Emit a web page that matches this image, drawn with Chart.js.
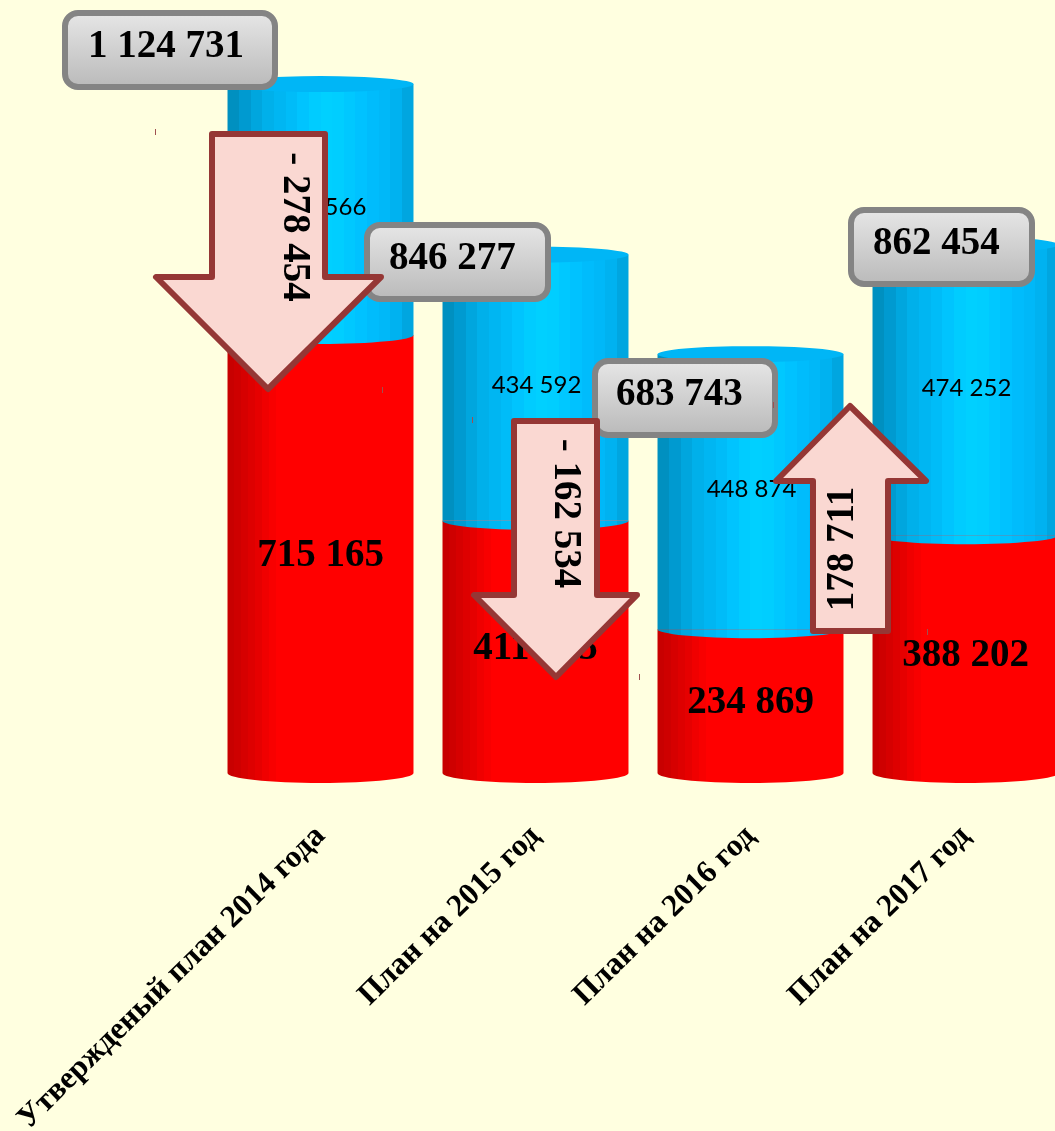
<!DOCTYPE html>
<html lang="ru">
<head>
<meta charset="utf-8">
<title>План 2014-2017</title>
<script src="https://cdn.jsdelivr.net/npm/chart.js@4"></script>
<style>
  html, body { margin: 0; padding: 0; background: #ffffe0; overflow: hidden; }
  #wrap { width: 1055px; height: 1131px; overflow: hidden; }
  canvas { display: block; }
</style>
</head>
<body>
<div id="wrap"><canvas id="chart" width="1073" height="1131"></canvas></div>
<script>
const categories = ["Утвержденый план 2014 года", "План на 2015 год", "План на 2016 год", "План на 2017 год"];
const redValues = [715165, 411685, 234869, 388202];
const blueValues = [409566, 434592, 448874, 474252];
const totals = [1124731, 846277, 683743, 862454];
const deltas = ["- 278 454", "- 162 534", "178 711"];

const SERIF = '"Liberation Serif", serif';
const BAR_HALF = 93;
const RED_BANDS = ["#c80000", "#ce0000", "#d60000", "#de0000", "#e60000", "#f00000", "#f80000", "#ff0000"];
const BLUE_BANDS = ["#0090c0", "#009ad0", "#00a6de", "#00b0ea", "#00b6f2", "#00bcf8", "#00c4fe", "#00ccff", "#00d0ff", "#00ceff", "#00c8ff", "#00c2ff", "#00bcfc", "#00b8f8", "#00b2f0", "#00a6e0"];

// vertical strips across the cylinder, red only shades on the left side
function bandFill(ctx, left, right, bands, share) {
  const grad = ctx.createLinearGradient(left, 0, right, 0);
  bands.forEach((c, i) => {
    grad.addColorStop((i / bands.length) * share, c);
    grad.addColorStop(((i + 1) / bands.length) * share, c);
  });
  if (share < 1) grad.addColorStop(1, bands[bands.length - 1]);
  return grad;
}

function barFill(c, bands, share) {
  const mid = c.chart.scales.x ? c.chart.scales.x.getPixelForValue(c.dataIndex) : NaN;
  if (!Number.isFinite(mid)) return bands[0];
  return bandFill(c.chart.ctx, mid - BAR_HALF, mid + BAR_HALF, bands, share);
}

function fmt(v) {
  return String(v).replace(/\B(?=(\d{3})+$)/g, " ");
}

const boxes = [
  { x: 65, y: 13, w: 210, h: 74, tx: 88 },
  { x: 367, y: 225, w: 181, h: 74, tx: 389 },
  { x: 595, y: 361, w: 180, h: 74, tx: 616 },
  { x: 851, y: 210, w: 181, h: 74, tx: 873 },
];

const arrows = [
  { pts: [[212, 134], [325, 134], [325, 277], [381, 277], [268, 389], [156, 277], [212, 277]], tx: 294, ty: 227, rot: Math.PI / 2, handles: [[155, 132], [382, 390]] },
  { pts: [[514, 421], [597, 421], [597, 595], [637, 595], [556, 677], [474, 595], [514, 595]], tx: 565.5, ty: 513.5, rot: Math.PI / 2, handles: [[472, 420], [639, 677]] },
  { pts: [[850, 406], [926, 481], [888, 481], [888, 631], [813, 631], [813, 481], [776, 481]], tx: 843, ty: 549, rot: -Math.PI / 2, handles: [[773, 405], [927, 632]] },
];

const cylinderPlugin = {
  id: "cylinder",
  afterDatasetsDraw(chart) {
    const ctx = chart.ctx;
    const red = chart.getDatasetMeta(0).data;
    const blue = chart.getDatasetMeta(1).data;
    ctx.save();
    red.forEach((el, i) => {
      const left = el.x - BAR_HALF, right = el.x + BAR_HALF;
      // bottom of the red part
      ctx.fillStyle = bandFill(ctx, left, right, RED_BANDS, 0.3);
      ctx.beginPath();
      ctx.ellipse(el.x, el.base, BAR_HALF, 10, 0, 0, Math.PI);
      ctx.fill();
      // blue part hangs over the red one
      const b = blue[i];
      ctx.fillStyle = bandFill(ctx, left, right, BLUE_BANDS, 1);
      ctx.beginPath();
      ctx.ellipse(b.x, b.base, BAR_HALF, 9, 0, 0, Math.PI);
      ctx.fill();
      // top cap
      ctx.fillStyle = "#00b6f6";
      ctx.beginPath();
      ctx.ellipse(b.x, b.y, BAR_HALF, 8, 0, 0, Math.PI * 2);
      ctx.fill();
    });

    ctx.fillStyle = "#000";
    ctx.textAlign = "center";
    ctx.textBaseline = "middle";
    red.forEach((el, i) => {
      ctx.font = `bold 39px ${SERIF}`;
      ctx.fillText(fmt(redValues[i]), el.x, (el.y + el.base) / 2 + 2);
      const b = blue[i];
      ctx.font = "24px Lato";
      ctx.fillText(fmt(blueValues[i]), b.x + 1, (b.y + b.base) / 2 - 2);
    });
    ctx.restore();
  },
  afterDraw(chart) {
    const ctx = chart.ctx;
    ctx.save();
    boxes.forEach((b, i) => {
      const grad = ctx.createLinearGradient(0, b.y, 0, b.y + b.h);
      grad.addColorStop(0, "#e6e6e6");
      grad.addColorStop(1, "#bababa");
      ctx.fillStyle = grad;
      ctx.strokeStyle = "#848484";
      ctx.lineWidth = 6;
      ctx.beginPath();
      ctx.roundRect(b.x, b.y, b.w, b.h, 13);
      ctx.fill();
      ctx.stroke();
      ctx.fillStyle = "#000";
      ctx.font = `bold 39px ${SERIF}`;
      ctx.textAlign = "left";
      ctx.textBaseline = "middle";
      ctx.fillText(fmt(totals[i]), b.tx, b.y + b.h / 2 - 3);
    });
    arrows.forEach((a, i) => {
      ctx.fillStyle = "#fad8d2";
      ctx.strokeStyle = "#953735";
      ctx.lineWidth = 6;
      ctx.lineJoin = "round";
      ctx.beginPath();
      a.pts.forEach((p, k) => (k ? ctx.lineTo(p[0], p[1]) : ctx.moveTo(p[0], p[1])));
      ctx.closePath();
      ctx.fill();
      ctx.stroke();
      // leftover selection handles seen in the source picture
      ctx.fillStyle = "#a05050";
      a.handles.forEach((h) => ctx.fillRect(h[0], h[1] - 3, 1, 6));
      ctx.save();
      ctx.translate(a.tx, a.ty);
      ctx.rotate(a.rot);
      ctx.fillStyle = "#000";
      ctx.font = `bold 39px ${SERIF}`;
      ctx.textAlign = "center";
      ctx.textBaseline = "middle";
      ctx.fillText(deltas[i], 0, 0);
      ctx.restore();
    });
    ctx.restore();
  },
};

new Chart(document.getElementById("chart"), {
  type: "bar",
  data: {
    labels: categories,
    datasets: [
      { label: "red", data: redValues, backgroundColor: (c) => barFill(c, RED_BANDS, 0.3) },
      { label: "blue", data: blueValues, backgroundColor: (c) => barFill(c, BLUE_BANDS, 1) },
    ],
  },
  options: {
    responsive: false,
    animation: false,
    layout: { autoPadding: false, padding: { left: 213, right: 0, top: 0, bottom: 0 } },
    categoryPercentage: 0.865,
    barPercentage: 1,
    plugins: { legend: { display: false }, tooltip: { enabled: false } },
    scales: {
      x: {
        stacked: true,
        afterFit: (s) => {
          s.height = 358;
          s.paddingLeft = 0;
          s.paddingRight = 0;
        },
        grid: { display: false, drawTicks: false },
        border: { display: false },
        ticks: {
          autoSkip: false,
          minRotation: 44.5,
          maxRotation: 44.5,
          padding: 45,
          color: "#000",
          font: { family: SERIF, size: 31.5, weight: "bold" },
        },
      },
      y: { stacked: true, display: false, min: 0, max: 1262000 },
    },
  },
  plugins: [cylinderPlugin],
});
</script>
</body>
</html>
